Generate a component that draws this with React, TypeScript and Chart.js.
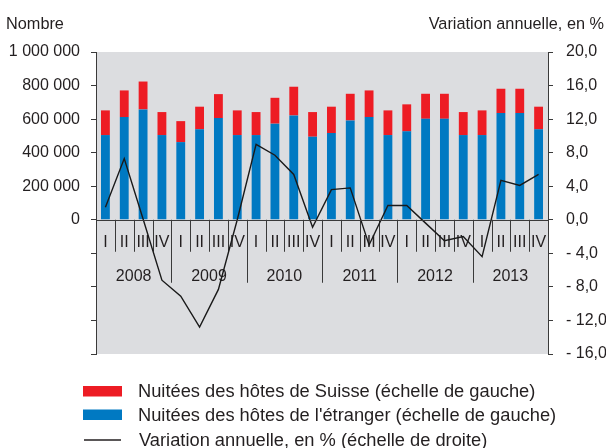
import React, { useEffect, useRef } from "react";
import { Chart, registerables } from "chart.js";

Chart.register(...registerables);

const years = ["2008", "2009", "2010", "2011", "2012", "2013"];
const quarters = ["I", "II", "III", "IV"];
const categories = years.flatMap((y) => quarters.map((q) => `${y} ${q}`));

const nuiteesEtranger = [
  505000, 612000, 658000, 505000, 463000, 539000, 606000, 505000, 505000, 573000, 622000, 495000,
  517000, 592000, 612000, 505000, 527000, 602000, 602000, 505000, 505000, 636000, 636000, 539000,
];
const nuiteesSuisse = [
  147000, 159000, 166000, 137000, 125000, 135000, 143000, 147000, 137000, 154000, 171000, 147000,
  157000, 159000, 159000, 147000, 161000, 149000, 149000, 137000, 147000, 145000, 145000, 135000,
];
const variationAnnuelle = [
  1.5, 7.3, 0.1, -7.2, -9.1, -12.8, -8.3, 0.0, 9.0, 7.7, 5.4, -0.9,
  3.6, 3.8, -3.0, 1.7, 1.7, -0.4, -2.5, -2.0, -4.4, 4.7, 4.1, 5.4,
];

const leftTitle = "Nombre";
const rightTitle = "Variation annuelle, en %";
const labelSuisse = "Nuitées des hôtes de Suisse (échelle de gauche)";
const labelEtranger = "Nuitées des hôtes de l'étranger (échelle de gauche)";
const labelVariation = "Variation annuelle, en % (échelle de droite)";

const RED = "#ed1c24";
const BLUE = "#0079c2";
const GREY = "#dcdde0";
const DARK = "#231f20";
const FONT = "'Liberation Sans', Arial, sans-serif";

function fmtLeft(v: number): string {
  if (v < 0) return "";
  return Math.round(v).toString().replace(/\B(?=(\d{3})+(?!\d))/g, " ");
}
function fmtRight(v: number): string {
  const s = Math.abs(v).toFixed(1).replace(".", ",");
  return v < -1e-9 ? "- " + s : s;
}

export default function App() {
  const ref = useRef<HTMLCanvasElement | null>(null);

  useEffect(() => {
    if (!ref.current) return;

    const decor = {
      id: "decor",
      beforeDatasetsDraw(chart: any) {
        const { ctx, chartArea } = chart;
        const xs = chart.scales.x;
        const ys = chart.scales.y;
        const zero = ys.getPixelForValue(0);
        ctx.save();
        const n = categories.length;
        const w = (chartArea.right - chartArea.left) / n;
        ctx.strokeStyle = "#3a3a3a";
        ctx.lineWidth = 1;
        for (let k = 1; k < n; k++) {
          const x = Math.round(chartArea.left + k * w) + 0.5;
          const bottom = k % 4 === 0 ? zero + 63 : zero + 32;
          ctx.beginPath();
          ctx.moveTo(x, zero);
          ctx.lineTo(x, bottom);
          ctx.stroke();
        }
        ctx.fillStyle = DARK;
        ctx.font = `16px ${FONT}`;
        ctx.textAlign = "center";
        ctx.textBaseline = "middle";
        for (let i = 0; i < n; i++) {
          const x = xs.getPixelForValue(i);
          ctx.fillText(quarters[i % 4], x, zero + 22.5);
        }
        years.forEach((y, j) => {
          const x = chartArea.left + (j * 4 + 2) * w;
          ctx.fillText(y, x, zero + 57);
        });
        ctx.restore();
      },
      beforeDraw(chart: any) {
        const { ctx, chartArea } = chart;
        ctx.save();
        ctx.fillStyle = GREY;
        ctx.fillRect(chartArea.left, chartArea.top, chartArea.right - chartArea.left, chartArea.bottom - chartArea.top);
        ctx.restore();
      },
      afterDatasetsDraw(chart: any) {
        const { ctx, chartArea } = chart;
        const zero = Math.round(chart.scales.y.getPixelForValue(0)) + 0.5;
        ctx.save();
        ctx.strokeStyle = "#3a3a3a";
        ctx.lineWidth = 1;
        ctx.beginPath();
        ctx.moveTo(chartArea.left, zero);
        ctx.lineTo(chartArea.right, zero);
        ctx.stroke();
        ctx.restore();
      },
      afterDraw(chart: any) {
        const { ctx } = chart;
        ctx.save();
        ctx.fillStyle = DARK;
        ctx.font = `16.3px ${FONT}`;
        ctx.textBaseline = "alphabetic";
        ctx.textAlign = "left";
        ctx.fillText(leftTitle, 6, 29);
        ctx.textAlign = "right";
        ctx.fillText(rightTitle, 604, 29);
        // legend
        ctx.textAlign = "left";
        ctx.textBaseline = "middle";
        ctx.fillStyle = RED;
        ctx.fillRect(83, 386, 39, 10.5);
        ctx.fillStyle = BLUE;
        ctx.fillRect(83, 409.5, 39, 10.5);
        ctx.strokeStyle = DARK;
        ctx.lineWidth = 1.5;
        ctx.beginPath();
        ctx.moveTo(84, 440);
        ctx.lineTo(121, 440);
        ctx.stroke();
        ctx.fillStyle = DARK;
        ctx.font = `18.3px ${FONT}`;
        ctx.fillText(labelSuisse, 138, 391.5);
        ctx.fillText(labelEtranger, 138, 415.5);
        ctx.fillText(labelVariation, 139, 441);
        ctx.restore();
      },
    };

    const chart = new Chart(ref.current, {
      type: "bar",
      data: {
        labels: categories,
        datasets: [
          {
            type: "line",
            label: labelVariation,
            data: variationAnnuelle,
            yAxisID: "y1",
            borderColor: "#1a1a1a",
            borderWidth: 1.4,
            pointRadius: 0,
            tension: 0,
            order: 0,
          } as any,
          {
            label: labelEtranger,
            data: nuiteesEtranger,
            backgroundColor: BLUE,
            yAxisID: "y",
            stack: "s",
            order: 1,
            barPercentage: 0.47,
            categoryPercentage: 1,
          },
          {
            label: labelSuisse,
            data: nuiteesSuisse,
            backgroundColor: RED,
            yAxisID: "y",
            stack: "s",
            order: 1,
            barPercentage: 0.47,
            categoryPercentage: 1,
          },
        ],
      },
      options: {
        responsive: false,
        animation: false,
        devicePixelRatio: 1,
        layout: { padding: { top: 52, bottom: 94, left: 0, right: 0 } },
        plugins: { legend: { display: false }, tooltip: { enabled: false } },
        scales: {
          x: { display: false, stacked: true, offset: true },
          y: {
            position: "left",
            stacked: true,
            min: -800000,
            max: 1000000,
            afterFit: (s: any) => {
              s.width = 96;
            },
            ticks: {
              stepSize: 200000,
              autoSkip: false,
              padding: 11,
              color: DARK,
              font: { family: FONT, size: 16 },
              callback: (v: any) => fmtLeft(Number(v)),
            },
            grid: { drawOnChartArea: false, drawTicks: true, tickLength: 5, tickColor: "#3a3a3a" },
            border: { display: true, color: "#3a3a3a", width: 1 },
          },
          y1: {
            position: "right",
            stacked: false,
            min: -16,
            max: 20,
            afterFit: (s: any) => {
              s.width = 58;
            },
            ticks: {
              stepSize: 4,
              autoSkip: false,
              padding: 13,
              color: DARK,
              font: { family: FONT, size: 16 },
              callback: (v: any) => fmtRight(Number(v)),
            },
            grid: { drawOnChartArea: false, drawTicks: true, tickLength: 5, tickColor: "#3a3a3a" },
            border: { display: true, color: "#3a3a3a", width: 1 },
          },
        },
      },
      plugins: [decor],
    } as any);

    return () => chart.destroy();
  }, []);

  return (
    <div style={{ position: "fixed", left: 0, top: 0, width: 606, height: 448, background: "#fff" }}>
      <canvas ref={ref} width={606} height={448} style={{ display: "block" }} />
    </div>
  );
}
